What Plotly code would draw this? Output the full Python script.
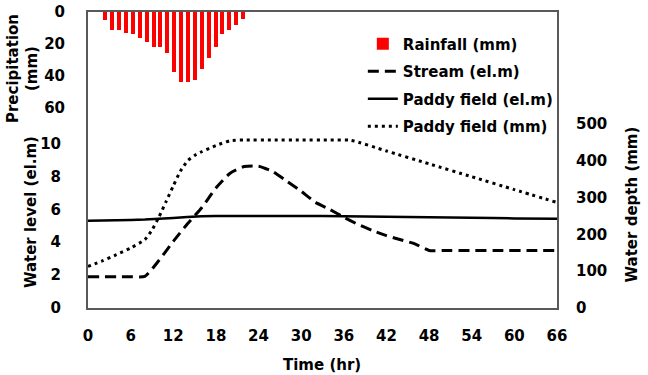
import plotly.graph_objects as go

# ---------------- data ----------------
rain_hours = list(range(2, 23))
rain_mm = [5, 11, 11, 13, 14, 16.5, 19, 22, 22, 26, 38, 44, 44, 42.5, 36, 29, 22, 14, 11, 8, 4.5]

stream_hours = [0, 2, 4, 6, 8, 10, 12, 14, 16, 18, 20, 22, 24, 26, 28, 30, 32, 34, 36, 38, 40, 42, 44, 46, 48, 50, 54, 58, 62, 66]
stream_elm = [1.9, 1.9, 1.9, 1.9, 1.92, 2.9, 4.05, 5.12, 6.1, 7.3, 8.2, 8.6, 8.62, 8.3, 7.7, 7.1, 6.43, 6.0, 5.52, 5.08, 4.72, 4.4, 4.15, 3.9, 3.5, 3.5, 3.5, 3.5, 3.5, 3.5]

paddy_hours = [0, 4, 8, 12, 16, 18, 24, 30, 36, 42, 48, 54, 60, 66]
paddy_elm = [5.3, 5.34, 5.38, 5.48, 5.58, 5.6, 5.6, 5.6, 5.58, 5.55, 5.52, 5.49, 5.45, 5.42]

depth_hours = [0, 2, 4, 6, 8, 9, 10, 11, 12, 13, 14, 15, 16, 18, 20, 22, 26, 30, 34, 37, 42, 48, 54, 60, 66]
depth_mm = [113, 128, 145, 163, 186, 212, 248, 290, 332, 372, 400, 415, 425, 442, 455, 457, 457, 457, 457, 456, 427, 392, 357, 322, 287]

x_ticks = list(range(0, 67, 6))
level_ticks = [0, 2, 4, 6, 8, 10]
precip_ticks = [0, 20, 40, 60]
depth_ticks = [0, 100, 200, 300, 400, 500]

FONT = "DejaVu Sans"
AX = "#595959"
tick_font = dict(family=FONT, size=15, color="black", weight="bold")

fig = go.Figure()

fig.add_trace(go.Bar(
    x=rain_hours, y=rain_mm, name="Rainfall (mm)",
    marker=dict(color="#FF0000", line=dict(width=0)), width=0.58,
    xaxis="x2", yaxis="y3", legendgroup="a"))

fig.add_trace(go.Scatter(
    x=stream_hours, y=stream_elm, name="Stream (el.m)", mode="lines",
    line=dict(color="black", width=3, dash="11px,6px", shape="spline", smoothing=0.5),
    legendgroup="b"))

fig.add_trace(go.Scatter(
    x=paddy_hours, y=paddy_elm, name="Paddy field (el.m)", mode="lines",
    line=dict(color="black", width=2.5, shape="spline", smoothing=0.5),
    legendgroup="c"))

fig.add_trace(go.Scatter(
    x=depth_hours, y=depth_mm, name="Paddy field (mm)", mode="lines",
    line=dict(color="black", width=3, dash="3px,4px", shape="spline", smoothing=0.5),
    yaxis="y2", legendgroup="d"))

fig.update_layout(
    width=648, height=375,
    margin=dict(l=88, r=91, t=12, b=67, autoexpand=False),
    paper_bgcolor="white", plot_bgcolor="white",
    font=dict(family=FONT, color="black"),
    showlegend=True,
    bargap=0,
    xaxis=dict(range=[0, 66], tickvals=x_ticks, showgrid=False, zeroline=False,
               showline=True, mirror=True, linecolor=AX, linewidth=2, automargin=False,
               ticks="", ticklabelstandoff=13, tickfont=tick_font),
    xaxis2=dict(range=[-0.5, 67.5], overlaying="x", visible=False, automargin=False),
    yaxis=dict(range=[0, 18], tickvals=level_ticks, showgrid=False, zeroline=False,
               showline=True, mirror=True, linecolor=AX, linewidth=2, automargin=False,
               ticks="", ticklabelstandoff=22, tickfont=tick_font),
    yaxis2=dict(range=[0, 805], tickvals=depth_ticks, overlaying="y", side="right",
                showgrid=False, zeroline=False, showline=False, automargin=False,
                ticks="", ticklabelstandoff=18, tickfont=tick_font),
    yaxis3=dict(range=[186, 0], tickvals=precip_ticks, overlaying="y", side="left",
                anchor="x", showgrid=False, zeroline=False, showline=False, automargin=False,
                ticks="", ticklabelstandoff=22, tickfont=tick_font),
    legend=dict(x=0.586, y=0.948, xanchor="left", yanchor="top",
                bgcolor="rgba(0,0,0,0)", traceorder="grouped", tracegroupgap=5,
                itemwidth=30,
                font=dict(family=FONT, size=15, color="black", weight="bold")),
)

title_font = dict(family=FONT, size=15, color="black", weight="bold")
fig.add_annotation(text="Time (hr)", xref="paper", yref="paper", x=0.499, y=-0.194,
                   showarrow=False, xanchor="center", yanchor="middle", font=title_font)
fig.add_annotation(text="Water level (el.m)", xref="paper", yref="paper", x=-0.123, y=0.325,
                   textangle=-90, showarrow=False, xanchor="center", yanchor="middle", font=title_font)
fig.add_annotation(text="Precipitation<br>(mm)", xref="paper", yref="paper", x=-0.139, y=0.81,
                   textangle=-90, showarrow=False, xanchor="center", yanchor="middle", font=title_font)
fig.add_annotation(text="Water depth (mm)", xref="paper", yref="paper", x=1.16, y=0.35,
                   textangle=-90, showarrow=False, xanchor="center", yanchor="middle", font=title_font)

fig.write_html("out.html")
